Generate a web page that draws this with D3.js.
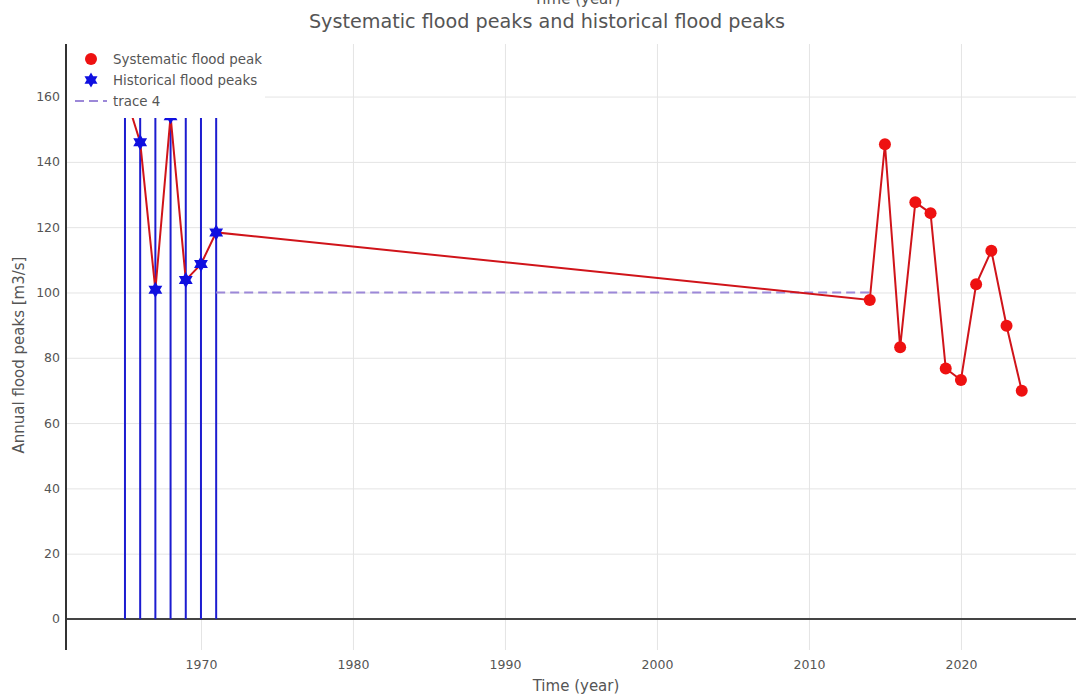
<!DOCTYPE html>
<html>
<head>
<meta charset="utf-8">
<script src="https://cdn.jsdelivr.net/npm/d3@7"></script>
<style>
  body { margin: 0; background: #fff; }
  text { font-family: "DejaVu Sans", verdana, sans-serif; fill: #555; }
</style>
</head>
<body>
<script>
// historical flood peaks (stars + stems)
var histYears = [1965, 1966, 1967, 1968, 1969, 1970, 1971];
var histPeaks = [161, 146, 100.8, 154, 103.8, 108.7, 118.4];
var histStemTop = 176;

// systematic flood peaks (red dots)
var sysYears = [2014, 2015, 2016, 2017, 2018, 2019, 2020, 2021, 2022, 2023, 2024];
var sysPeaks = [97.7, 145.4, 83.2, 127.6, 124.3, 76.7, 73.2, 102.5, 112.8, 89.8, 69.9];

// trace 4 (dashed threshold)
var traceYears = [1971, 2014];
var traceValues = [100, 100];

var xTicks = [1970, 1980, 1990, 2000, 2010, 2020];
var yTicks = [0, 20, 40, 60, 80, 100, 120, 140, 160];

var legendLabels = ["Systematic flood peak", "Historical flood peaks", "trace 4"];

var svgWidth = 1076, svgHeight = 697;
var margin = {top: 44, bottom: 47, left: 66, right: 0};
var width = svgWidth - margin.left - margin.right;
var height = svgHeight - margin.top - margin.bottom;

var svg = d3.select("body").append("svg")
    .attr("width", svgWidth)
    .attr("height", svgHeight);

var g = svg.append("g")
    .attr("transform", "translate(" + margin.left + "," + margin.top + ")");

var xScale = d3.scaleLinear()
    .domain([1961.12, 2027.57])
    .range([0, width]);

var yScale = d3.scaleLinear()
    .domain([-9.5, 176.1])
    .range([height, 0]);

g.append("defs").append("clipPath").attr("id", "plotClip")
    .append("rect").attr("width", width).attr("height", height);

// grid
g.append("g")
    .call(d3.axisBottom(xScale).tickValues(xTicks).tickSize(height).tickFormat(""))
    .call(function(s) { s.select(".domain").remove(); })
    .selectAll("line").attr("stroke", "#e4e4e4");

g.append("g")
    .call(d3.axisLeft(yScale).tickValues(yTicks.filter(function(d) { return d !== 0; }))
        .tickSize(-width).tickFormat(""))
    .call(function(s) { s.select(".domain").remove(); })
    .selectAll("line").attr("stroke", "#e4e4e4");

// tick labels
var xAxis = g.append("g")
    .attr("transform", "translate(0," + height + ")")
    .call(d3.axisBottom(xScale).tickValues(xTicks).tickSize(0).tickPadding(10).tickFormat(d3.format("d")));
xAxis.select(".domain").remove();
xAxis.selectAll("text").style("font-size", "12.5px").attr("fill", "#666");

var yAxis = g.append("g")
    .call(d3.axisLeft(yScale).tickValues(yTicks).tickSize(0).tickPadding(6));
yAxis.select(".domain").remove();
yAxis.selectAll("text").style("font-size", "12.5px").attr("fill", "#666");

// zero line
g.append("line")
    .attr("x1", 0).attr("x2", width)
    .attr("y1", yScale(0)).attr("y2", yScale(0))
    .attr("stroke", "#444").attr("stroke-width", 2);

var plot = g.append("g").attr("clip-path", "url(#plotClip)");

// historical stems
plot.selectAll(".stem")
    .data(histYears)
    .enter().append("line")
        .attr("class", "stem")
        .attr("x1", function(d) { return xScale(d); })
        .attr("x2", function(d) { return xScale(d); })
        .attr("y1", yScale(0))
        .attr("y2", yScale(histStemTop))
        .attr("stroke", "#1c1cd0")
        .attr("stroke-width", 2);

// trace 4
plot.append("path")
    .datum(traceYears.map(function(d, i) { return [d, traceValues[i]]; }))
    .attr("fill", "none")
    .attr("stroke", "#9c88d8")
    .attr("stroke-width", 2)
    .attr("stroke-dasharray", "9,5")
    .attr("d", d3.line()
        .x(function(d) { return xScale(d[0]); })
        .y(function(d) { return yScale(d[1]); }));

// peaks line through all points
var allPts = histYears.map(function(d, i) { return [d, histPeaks[i]]; })
    .concat(sysYears.map(function(d, i) { return [d, sysPeaks[i]]; }));

plot.append("path")
    .datum(allPts)
    .attr("fill", "none")
    .attr("stroke", "#d0141a")
    .attr("stroke-width", 2)
    .attr("d", d3.line()
        .x(function(d) { return xScale(d[0]); })
        .y(function(d) { return yScale(d[1]); }));

plot.selectAll(".sys")
    .data(sysYears)
    .enter().append("circle")
        .attr("class", "sys")
        .attr("cx", function(d) { return xScale(d); })
        .attr("cy", function(d, i) { return yScale(sysPeaks[i]); })
        .attr("r", 6)
        .attr("fill", "#ee1111");

// hexagram path
function hexagram(r) {
    var pts = [];
    for (var i = 0; i < 12; i++) {
        var a = -Math.PI / 2 + i * Math.PI / 6;
        var rr = i % 2 === 0 ? r : r * 0.577;
        pts.push([rr * Math.cos(a), rr * Math.sin(a)]);
    }
    return "M" + pts.map(function(p) { return p[0].toFixed(2) + "," + p[1].toFixed(2); }).join("L") + "Z";
}

plot.selectAll(".hist")
    .data(histYears)
    .enter().append("path")
        .attr("class", "hist")
        .attr("transform", function(d, i) {
            return "translate(" + xScale(d) + "," + yScale(histPeaks[i]) + ")";
        })
        .attr("d", hexagram(8))
        .attr("fill", "#1010e0");

// legend
var legend = g.append("g");
legend.append("rect")
    .attr("x", 1).attr("y", 0)
    .attr("width", 198).attr("height", 74)
    .attr("fill", "#fff");

legend.append("circle").attr("cx", 25).attr("cy", 15).attr("r", 6).attr("fill", "#ee1111");
legend.append("path").attr("transform", "translate(25,36)").attr("d", hexagram(7.5)).attr("fill", "#1010e0");
legend.append("line")
    .attr("x1", 9).attr("x2", 41).attr("y1", 57).attr("y2", 57)
    .attr("stroke", "#9c88d8").attr("stroke-width", 2).attr("stroke-dasharray", "9,5");

legend.selectAll(".legText")
    .data(legendLabels)
    .enter().append("text")
        .attr("class", "legText")
        .attr("x", 47)
        .attr("y", function(d, i) { return 15 + i * 21; })
        .attr("dy", "0.35em")
        .style("font-size", "13.4px")
        .text(function(d) { return d; });

// left axis line
g.append("line")
    .attr("x1", 0).attr("x2", 0)
    .attr("y1", 0).attr("y2", height)
    .attr("stroke", "#333").attr("stroke-width", 2);

// titles
svg.append("text")
    .text("Time (year)")
    .attr("text-anchor", "middle")
    .attr("x", 577)
    .attr("y", 4)
    .style("font-size", "15px");

svg.append("text")
    .text("Systematic flood peaks and historical flood peaks")
    .attr("text-anchor", "middle")
    .attr("x", 547)
    .attr("y", 28)
    .style("font-size", "19.2px");

svg.append("text")
    .text("Time (year)")
    .attr("text-anchor", "middle")
    .attr("x", 576)
    .attr("y", 691)
    .style("font-size", "15px");

svg.append("text")
    .text("Annual flood peaks [m3/s]")
    .attr("text-anchor", "middle")
    .attr("transform", "translate(24," + 355 + ") rotate(-90)")
    .style("font-size", "15px");
</script>
</body>
</html>
